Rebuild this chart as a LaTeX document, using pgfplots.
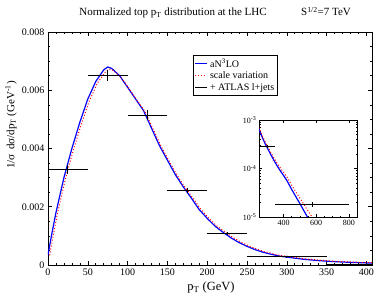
\documentclass[border=0pt]{standalone}
\usepackage{fontspec}
\setmainfont{Liberation Serif}
\usepackage{pgfplots}
\pgfplotsset{compat=1.18}
\pgfplotstableread{
x y
0 0.00035
5 0.0011
10 0.0018
15 0.0024
20 0.0030
25 0.0035
30 0.0040
40 0.0049
50 0.0057
60 0.0063
70 0.0067
75 0.0068
80 0.00675
90 0.0065
100 0.0061
110 0.0057
120 0.0053
130 0.0047
140 0.0041
150 0.0036
160 0.0031
170 0.00268
180 0.0023
190 0.0019
200 0.0016
210 0.00133
220 0.00112
230 0.00093
240 0.00077
250 0.00064
260 0.00053
270 0.00044
280 0.00037
290 0.00031
300 0.00027
320 0.00020
340 0.00015
360 0.000115
380 0.00009
400 0.000072
420 0.000057
450 0.000037
500 0.000019
550 0.0000095
580 0.0000065
}\blue
\pgfplotstableread{
x y
2 0.00033
7 0.00108
12 0.00178
17 0.00238
22 0.00297
27 0.00347
32 0.00396
42 0.00485
52 0.00564
62 0.00624
72 0.00663
77 0.00673
82 0.00668
92 0.00644
102 0.00605
112 0.00565
122 0.00526
132 0.00467
142 0.00408
152 0.00358
162 0.00309
172 0.00267
182 0.00230
192 0.00191
202 0.00161
212 0.00134
222 0.00114
232 0.00095
242 0.00079
252 0.00066
262 0.00055
272 0.00046
282 0.00039
292 0.00033
302 0.00029
322 0.000215
342 0.000163
362 0.000127
382 0.000101
402 0.000082
422 0.000066
452 0.000044
502 0.000024
552 0.000013
602 0.0000074
}\red
\pgfplotstableread{
x y ex ey
25 0.00328 25 0.00017
75 0.00652 25 0.00019
125 0.00514 25 0.00017
175 0.00256 25 0.00010
225 0.00108 25 0.00005
300 0.00029 50 0.00002
575 0.000018 225 0.000002
}\atlas
\begin{document}
\begin{tikzpicture}
\useasboundingbox (-48pt,-31pt) rectangle (326pt,265pt);
\begin{axis}[at={(0pt,0pt)}, anchor=south west, scale only axis,
  width=324pt, height=233pt,
  xmin=0, xmax=407, ymin=0, ymax=0.008,
  xtick={0,50,...,400}, minor x tick num=4,
  ytick={0,0.002,0.004,0.006,0.008},
  yticklabels={0,0.002,0.004,0.006,0.008},
  scaled y ticks=false,
  minor y tick num=3,
  /pgf/number format/assume math mode=true,
  tick label style={font=\fontsize{10}{12}\selectfont},
  major tick length=4pt, minor tick length=2pt,
  every tick/.style={black, line width=0.6pt},
  axis line style={line width=0.8pt},
  legend style={at={(0.4475,0.901)}, anchor=north west, draw=black, line width=0.8pt,
    font=\fontsize{10}{11}\selectfont, inner sep=1.5pt, row sep=-1pt},
  legend cell align=left,
  legend image code/.code={\draw[#1] (0pt,0pt) -- (12pt,0pt);},
]
\addplot[blue, line width=1.2pt] table[x=x,y=y] {\blue};
\addlegendentry{aN\textsuperscript{3}LO}
\addplot[red, dotted, line width=1pt] table[x=x,y=y] {\red};
\addlegendentry{scale variation}
\addplot[draw=none, mark=none, forget plot,
  error bars/.cd, x dir=both, x explicit, y dir=both, y explicit,
  error mark=none, error bar style={draw=black, solid, line width=1pt}]
  table[x=x, y=y, x error=ex, y error=ey] {\atlas};
\addlegendimage{draw=none}
\addlegendentry{+ ATLAS l+jets}
\end{axis}
\begin{axis}[at={(211pt,48pt)}, anchor=south west, scale only axis,
  width=98pt, height=97pt, ymode=log,
  xmin=250, xmax=850, ymin=1e-5, ymax=1e-3,
  xtick={400,600,800}, minor x tick num=3,
  ytick={1e-5,1e-4,1e-3},
  yticklabels={10\textsuperscript{-5},10\textsuperscript{-4},10\textsuperscript{-3}},
  /pgf/number format/assume math mode=true,
  tick label style={font=\fontsize{8}{9}\selectfont},
  major tick length=3pt, minor tick length=1.5pt,
  every tick/.style={black, line width=0.5pt},
  axis line style={line width=0.8pt},
  axis background/.style={fill=white},
  yticklabel style={xshift=1pt},
]
\addplot[blue, line width=1.2pt] table[x=x,y=y] {\blue};
\addplot[red, dotted, line width=1pt] table[x=x,y=y] {\red};
\addplot[draw=none, mark=none,
  error bars/.cd, x dir=both, x explicit, y dir=both, y explicit,
  error mark=none, error bar style={draw=black, solid, line width=1pt}]
  table[x=x, y=y, x error=ex, y error=ey] {\atlas};
\end{axis}
\node[anchor=base, font=\fontsize{11}{13}\selectfont] at (125pt,249pt) {Normalized top p\textsubscript{T} distribution at the LHC};
\node[anchor=base, font=\fontsize{11}{13}\selectfont] at (278pt,249pt) {S\textsuperscript{1/2}=7 TeV};
\node[anchor=base, font=\fontsize{12.5}{14}\selectfont] at (163pt,-26pt) {p\textsubscript{T} (GeV)};
\node[rotate=90, font=\fontsize{11}{13}\selectfont] at (-37pt,140pt) {1/σ \,dσ/dp\textsubscript{T} (GeV\textsuperscript{-1})};
\end{tikzpicture}
\end{document}
